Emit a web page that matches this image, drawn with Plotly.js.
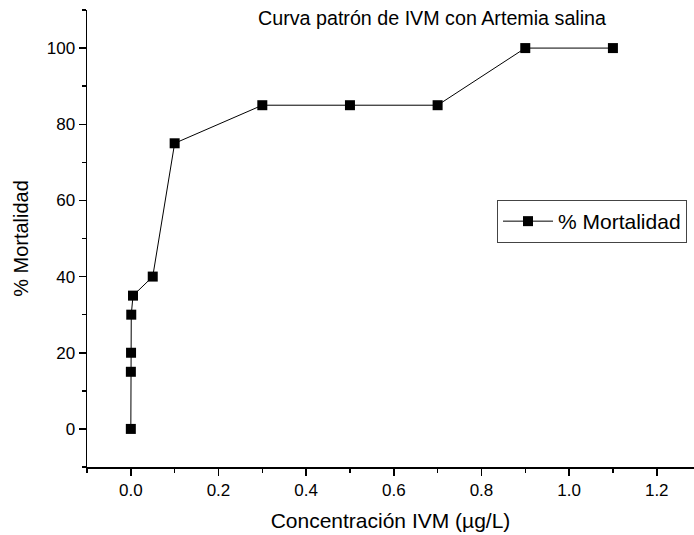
<!DOCTYPE html>
<html>
<head>
<meta charset="utf-8">
<script src="https://cdn.plot.ly/plotly-3.0.1.min.js"></script>
<style>html,body{margin:0;padding:0;background:#fff;}#chart{width:694px;height:535px;}</style>
</head>
<body>
<div id="chart"></div>
<script>
const concentracion = [0, 0.0001, 0.0005, 0.001, 0.005, 0.05, 0.1, 0.3, 0.5, 0.7, 0.9, 1.1];
const mortalidad = [0, 15, 20, 30, 35, 40, 75, 85, 85, 85, 100, 100];
const seriesName = '% Mortalidad';
const chartTitle = 'Curva patrón de IVM con Artemia salina';
const xTitle = 'Concentración IVM (µg/L)';
const yTitle = '% Mortalidad';

const FONT = 'Liberation Sans, Arial, sans-serif';

const trace = {
  x: concentracion,
  y: mortalidad,
  type: 'scatter',
  mode: 'lines+markers',
  name: seriesName,
  line: {color: '#000', width: 1},
  marker: {symbol: 'square', size: 10, color: '#000'}
};

const layout = {
  width: 694,
  height: 535,
  margin: {l: 87, r: 0, t: 10, b: 68},
  paper_bgcolor: '#fff',
  plot_bgcolor: '#fff',
  font: {family: FONT, color: '#000'},
  title: {
    text: chartTitle,
    font: {family: FONT, size: 19.7, color: '#000'},
    x: 432/694, xref: 'container', xanchor: 'center',
    y: 1 - 18/535, yref: 'container', yanchor: 'middle'
  },
  showlegend: true,
  legend: {
    x: (497-87)/607, xanchor: 'left',
    y: (467-200)/457, yanchor: 'top',
    bordercolor: '#444', borderwidth: 1,
    bgcolor: '#fff',
    font: {family: FONT, size: 21, color: '#000'},
    itemwidth: 50
  },
  xaxis: {
    range: [-0.1, 1.285],
    tickvals: [0, 0.2, 0.4, 0.6, 0.8, 1.0, 1.2],
    ticktext: ['0.0', '0.2', '0.4', '0.6', '0.8', '1.0', '1.2'],
    ticks: 'outside', ticklen: 7, tickwidth: 1.5, tickcolor: '#000',
    minor: {tickvals: [-0.1, 0.1, 0.3, 0.5, 0.7, 0.9, 1.1], ticks: 'outside', ticklen: 4, tickwidth: 1.5, tickcolor: '#000', showgrid: false},
    showline: true, linecolor: '#000', linewidth: 1.5,
    showgrid: false, zeroline: false,
    tickfont: {family: FONT, size: 17, color: '#000'},
    title: {text: xTitle, font: {family: FONT, size: 21, color: '#000'}, standoff: 14}
  },
  yaxis: {
    range: [-10, 110],
    tickvals: [0, 20, 40, 60, 80, 100],
    ticks: 'outside', ticklen: 7, tickwidth: 1.5, tickcolor: '#000',
    minor: {tickvals: [-10, 10, 30, 50, 70, 90, 110], ticks: 'outside', ticklen: 4, tickwidth: 1.5, tickcolor: '#000', showgrid: false},
    showline: true, linecolor: '#000', linewidth: 1.5,
    showgrid: false, zeroline: false,
    tickfont: {family: FONT, size: 17, color: '#000'},
    title: {text: yTitle, font: {family: FONT, size: 20, color: '#000'}, standoff: 12}
  }
};

Plotly.newPlot('chart', [trace], layout, {displayModeBar: false, staticPlot: true});
</script>
</body>
</html>
